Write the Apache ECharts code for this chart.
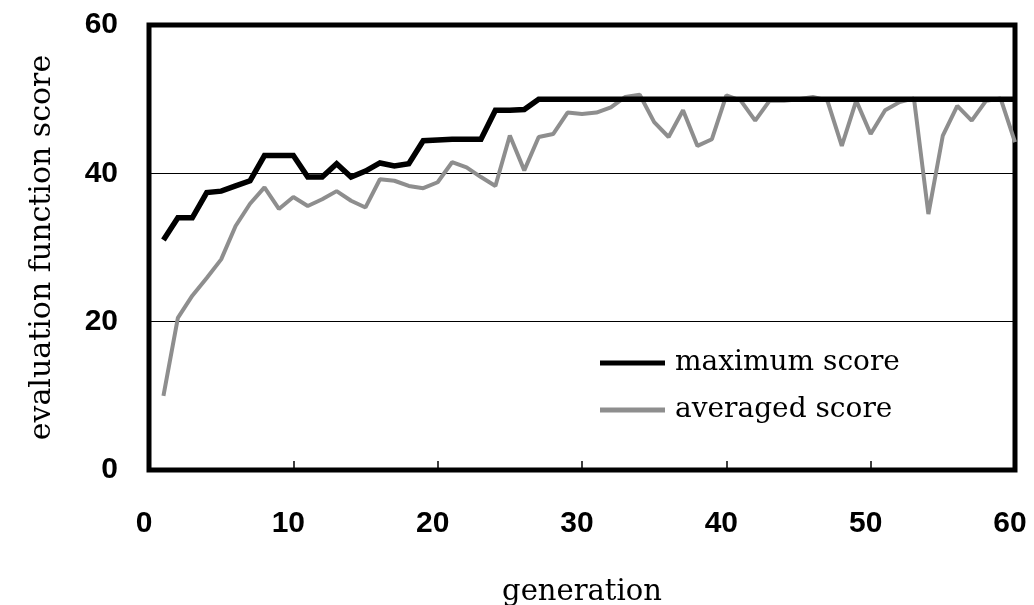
<!DOCTYPE html>
<html>
<head>
<meta charset="utf-8">
<script src="https://cdn.jsdelivr.net/npm/echarts@6/dist/echarts.min.js"></script>
<style>
html,body{margin:0;padding:0;background:#fff;}
#chart{width:1034px;height:605px;}
</style>
</head>
<body>
<div id="chart"></div>
<script>
var generations = [1,2,3,4,5,6,7,8,9,10,11,12,13,14,15,16,17,18,19,20,21,22,23,24,25,26,27,28,29,30,31,32,33,34,35,36,37,38,39,40,41,42,43,44,45,46,47,48,49,50,51,52,53,54,55,56,57,58,59,60];
var maximumScore = [31,34,34,37.4,37.6,38.3,39,42.4,42.4,42.4,39.5,39.5,41.3,39.5,40.3,41.4,41,41.3,44.4,44.5,44.6,44.6,44.6,48.5,48.5,48.6,50,50,50,50,50,50,50,50,50,50,50,50,50,50,50,50,50,50,50,50,50,50,50,50,50,50,50,50,50,50,50,50,50,50];
var averagedScore = [10,20.5,23.5,25.9,28.4,32.9,35.9,38.1,35.2,36.8,35.6,36.5,37.6,36.3,35.4,39.2,39,38.3,38,38.8,41.5,40.8,39.5,38.3,45.1,40.4,44.9,45.3,48.2,48,48.2,48.9,50.3,50.6,46.9,44.9,48.5,43.7,44.6,50.5,49.8,47.1,49.8,49.8,50,50.3,49.8,43.7,49.8,45.3,48.5,49.6,50.1,34.5,45.1,49.1,47.1,49.8,50.1,44.2];
var xTicks = [0,10,20,30,40,50,60];
var yTicks = [0,20,40,60];
var seriesNames = ['maximum score','averaged score'];

function pairs(xs, ys){ return xs.map(function(x,i){ return [x, ys[i]]; }); }

var chart = echarts.init(document.getElementById('chart'), null, {renderer:'canvas'});
chart.setOption({
  animation:false,
  backgroundColor:'#fff',
  grid:{left:149, right:19, top:25, bottom:135, show:true, borderColor:'#000', borderWidth:5, backgroundColor:'transparent', containLabel:false, outerBoundsMode:'none'},
  xAxis:{
    type:'value', min:xTicks[0], max:xTicks[xTicks.length-1], interval:10,
    name:'generation', nameLocation:'middle', nameGap:108,
    nameTextStyle:{fontFamily:'DejaVu Serif', fontSize:29, color:'#000'},
    axisLine:{show:false},
    axisTick:{show:true, inside:true, length:9, lineStyle:{color:'#000', width:1.5}},
    splitLine:{show:false},
    axisLabel:{fontFamily:'Liberation Sans', fontWeight:'bold', fontSize:30, color:'#000', margin:39, padding:[0,10,0,0]}
  },
  yAxis:{
    type:'value', min:yTicks[0], max:yTicks[yTicks.length-1], interval:20,
    name:'evaluation function score', nameLocation:'middle', nameGap:92, nameRotate:90,
    nameTextStyle:{fontFamily:'DejaVu Serif', fontSize:30, color:'#000'},
    axisLine:{show:false},
    axisTick:{show:false},
    splitLine:{show:true, lineStyle:{color:'#000', width:1.2}},
    axisLabel:{fontFamily:'Liberation Sans', fontWeight:'bold', fontSize:30, color:'#000', margin:31}
  },
  legend:{
    show:true, orient:'vertical', left:595, top:344, itemWidth:65, itemHeight:5, itemGap:19,
    textStyle:{fontFamily:'DejaVu Serif', fontSize:28, color:'#000', padding:[0,0,0,5]},
    data:[
      {name:seriesNames[0], icon:'rect', itemStyle:{color:'#000'}},
      {name:seriesNames[1], icon:'rect', itemStyle:{color:'#8e8e8e'}}
    ]
  },
  series:[
    {name:seriesNames[0], type:'line', data:pairs(generations, maximumScore), symbol:'none', z:3,
     lineStyle:{color:'#000', width:5.5, join:'miter'}, itemStyle:{color:'#000'}},
    {name:seriesNames[1], type:'line', data:pairs(generations, averagedScore), symbol:'none', z:2,
     lineStyle:{color:'#8e8e8e', width:4}, itemStyle:{color:'#8e8e8e'}}
  ]
});
</script>
</body>
</html>
